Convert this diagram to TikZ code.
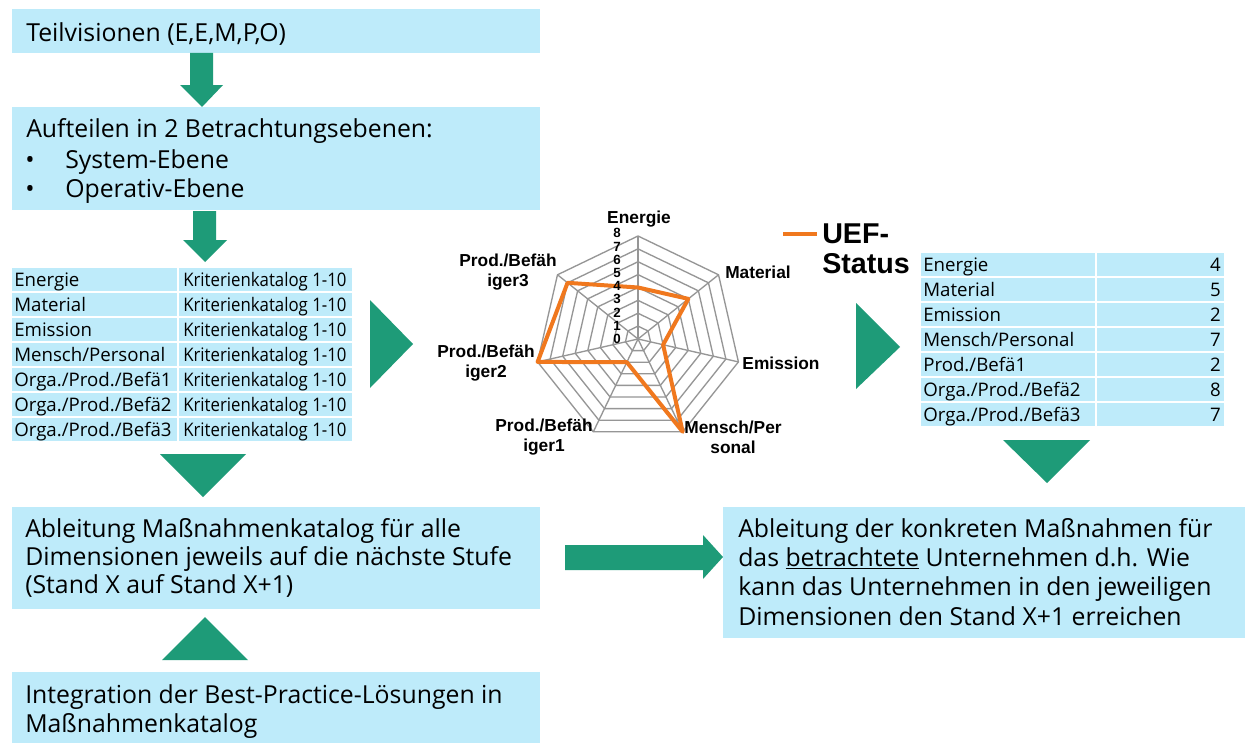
\documentclass[tikz,border=0pt]{standalone}
\usepackage{fontspec}
\setmainfont{Open Sans}
\newfontfamily\condf[FakeStretch=0.9]{Open Sans}
\newfontfamily\chartf{Liberation Sans}
\usetikzlibrary{fit}
\definecolor{boxc}{RGB}{190,235,250}
\definecolor{arrc}{RGB}{30,155,120}
\definecolor{orng}{RGB}{240,120,30}
\definecolor{gridc}{RGB}{150,150,150}
\tikzset{
  boxs/.style={fill=boxc, draw=none, inner sep=0pt},
  txt/.style={anchor=base west, inner sep=0pt, font=\fontsize{18.6}{22}\selectfont},
  tabt/.style={anchor=base west, inner sep=0pt, font=\fontsize{14}{16}\selectfont},
  tabc/.style={anchor=base west, inner sep=0pt, font=\condf\fontsize{14}{16}\selectfont},
  arrowc/.style={fill=arrc, draw=none},
  lab/.style={font=\chartf\bfseries\fontsize{13}{15}\selectfont, align=center, inner sep=0pt},
  digit/.style={font=\chartf\bfseries\fontsize{10}{10}\selectfont, inner sep=0pt},
  legt/.style={anchor=base west, inner sep=0pt, font=\chartf\bfseries\fontsize{21.5}{21.5}\selectfont}
}
\begin{document}
\begin{tikzpicture}[x=0.75pt, y=-0.75pt]
\fill[white] (0,0) rectangle (1248,742);
\useasboundingbox (0,0) rectangle (1248,742);

% --- left column boxes
\node[boxs, fit={(12,9) (540,53)}] (b1) {};
\node[txt] (t1) at (26,42) {Teilvisionen (E,E,M,P,O)};

\fill[arrowc] (190,53) -- (213,53) -- (213,85) -- (223,85) -- (202,107) -- (180,85) -- (190,85) -- cycle;

\node[boxs, fit={(12,107) (540,210)}] (b2) {};
\node[txt] (t2a) at (26,137) {Aufteilen in 2 Betrachtungsebenen:};
\node[txt] (t2b) at (25,168) {•};
\node[txt] (t2c) at (65,168) {System-Ebene};
\node[txt] (t2d) at (25,197) {•};
\node[txt] (t2e) at (65,197) {Operativ-Ebene};

\fill[arrowc] (193,211) -- (216,211) -- (216,240) -- (227,240) -- (205,262) -- (183,240) -- (193,240) -- cycle;

% --- left table
\foreach \i/\t in {0/{Energie},1/{Material},2/{Emission},3/{Mensch/Personal},4/{Orga./Prod./Befä1},5/{Orga./Prod./Befä2},6/{Orga./Prod./Befä3}}{
  \node[boxs, fit={(12,{268+25*\i}) (177,{291+25*\i})}] (la\i) {};
  \node[boxs, fit={(179,{268+25*\i}) (352,{291+25*\i})}] (lb\i) {};
  \node[tabt] (lta\i) at (14,{286+25*\i}) {\t};
  \node[tabc] (ltb\i) at (183,{286+25*\i}) {Kriterienkatalog 1-10};
}

\fill[arrowc] (370,300) -- (413,344) -- (370,388) -- cycle;
\fill[arrowc] (160,454) -- (246,454) -- (203,497) -- cycle;

\node[boxs, fit={(12,507) (540,609)}] (b3) {};
\node[txt] (t3a) at (25,537) {Ableitung Maßnahmenkatalog für alle};
\node[txt] (t3b) at (25,565) {Dimensionen jeweils auf die nächste Stufe};
\node[txt] (t3c) at (25,593) {(Stand X auf Stand X+1)};

\fill[arrowc] (162,660) -- (248,660) -- (205,617) -- cycle;

\node[boxs, fit={(12,672) (540,745)}] (b4) {};
\node[txt] (t4a) at (25,703) {Integration der Best-Practice-Lösungen in};
\node[txt] (t4b) at (25,732) {Maßnahmenkatalog};

% --- horizontal arrow
\fill[arrowc] (565,545) -- (703,545) -- (703,535) -- (723,557) -- (703,579) -- (703,570) -- (565,570) -- cycle;

% --- right box
\node[boxs, fit={(723,507) (1245,638)}] (b5) {};
\node[txt] (t5a) at (738,537) {Ableitung der konkreten Maßnahmen für};
\node[txt] (t5b) at (738,566) {das \underline{betrachtete} Unternehmen d.h. Wie};
\node[txt] (t5c) at (738,595) {kann das Unternehmen in den jeweiligen};
\node[txt] (t5d) at (738,625) {Dimensionen den Stand X+1 erreichen};

% --- right table
\foreach \i/\t/\v in {0/{Energie}/4,1/{Material}/5,2/{Emission}/2,3/{Mensch/Personal}/7,4/{Prod./Befä1}/2,5/{Orga./Prod./Befä2}/8,6/{Orga./Prod./Befä3}/7}{
  \node[boxs, fit={(921,{253+25*\i}) (1095,{276+25*\i})}] (ra\i) {};
  \node[boxs, fit={(1097,{253+25*\i}) (1224,{276+25*\i})}] (rb\i) {};
  \node[tabt] (rta\i) at (923,{271+25*\i}) {\t};
  \node[tabt, anchor=base east] (rtb\i) at (1221,{271+25*\i}) {\v};
}

\fill[arrowc] (856,303) -- (900,347) -- (856,389) -- cycle;
\fill[arrowc] (1003,440) -- (1090,440) -- (1047,483) -- cycle;

% --- radar chart
\begin{scope}[shift={(638,339)}, x=0.75pt, y=0.75pt]
  \foreach \k in {1,...,8}
    \draw[gridc, line width=1pt] (90:{\k*12.875}) -- ({90-360/7}:{\k*12.875}) -- ({90-2*360/7}:{\k*12.875}) -- ({90-3*360/7}:{\k*12.875}) -- ({90-4*360/7}:{\k*12.875}) -- ({90-5*360/7}:{\k*12.875}) -- ({90-6*360/7}:{\k*12.875}) -- cycle;
  \foreach \a in {0,...,6}
    \draw[gridc, line width=1pt] (0,0) -- ({90-\a*360/7}:103);
  \draw[orng, line width=3pt, line join=round] (90:{4*12.875}) -- ({90-360/7}:{5*12.875}) -- ({90-2*360/7}:{2*12.875}) -- ({90-3*360/7}:{8*12.875}) -- ({90-4*360/7}:{2*12.875}) -- ({90-5*360/7}:{8*12.875}) -- ({90-6*360/7}:{7*12.875}) -- cycle;
\end{scope}
\foreach \k in {0,...,8}
  \node[digit] (d\k) at (617,{339-13.2*\k}) {\k};

\node[lab] (lE) at (639,219) {Energie};
\node[lab] (lM) at (758,272) {Material};
\node[lab] (lEm) at (781,363) {Emission};
\node[lab] (lP) at (733,437) {Mensch/Per\\sonal};
\node[lab] (l1) at (544,437) {Prod./Befäh\\iger1};
\node[lab] (l2) at (486,363) {Prod./Befäh\\iger2};
\node[lab] (l3) at (508,272) {Prod./Befäh\\iger3};

% --- legend
\coordinate (lg1) at (783,234);
\coordinate (lg2) at (817,234);
\draw[orng, line width=3pt] (lg1) -- (lg2);
\node[legt] (uef) at (822,243) {UEF-};
\node[legt] (sta) at (822,273) {Status};
\end{tikzpicture}
\end{document}
